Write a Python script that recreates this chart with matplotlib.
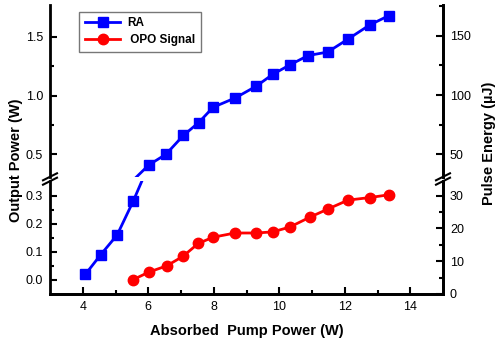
import numpy as np
import matplotlib
matplotlib.use("Agg")
import matplotlib.pyplot as plt
from matplotlib.lines import Line2D
from matplotlib.ticker import FixedLocator

plt.rcParams['font.family'] = ['Liberation Sans', 'DejaVu Sans']

# absorbed pump power (W)
pump_ra = [4.08, 4.55, 5.05, 5.54, 6.02, 6.54, 7.07, 7.54, 7.98, 8.66,
           9.30, 9.80, 10.32, 10.88, 11.48, 12.10, 12.76, 13.35]
power_ra = [0.02, 0.09, 0.16, 0.28, 0.41, 0.50, 0.66, 0.77, 0.90, 0.98,
            1.08, 1.18, 1.26, 1.34, 1.37, 1.48, 1.60, 1.68]

pump_opo = [5.52, 6.02, 6.56, 7.06, 7.53, 7.98, 8.65, 9.30, 9.80,
            10.32, 10.93, 11.50, 12.10, 12.76, 13.35]
power_opo = [0.00, 0.028, 0.05, 0.084, 0.13, 0.152, 0.167, 0.167, 0.171,
             0.188, 0.223, 0.253, 0.284, 0.293, 0.303]

top_lim = (0.307, 1.77)
bot_lim = (-0.05, 0.352)

W, H = 500, 340
fig = plt.figure(figsize=(W / 100, H / 100), dpi=100)

def fx(px):
    return px / W

def fy(py):
    return 1 - py / H

left, right = 50, 443
top, brk_hi, brk_lo, bottom = 5, 177, 181, 294

ax_top = fig.add_axes([fx(left), fy(brk_hi), fx(right - left), (brk_hi - top) / H])
ax_bot = fig.add_axes([fx(left), fy(bottom), fx(right - left), (bottom - brk_lo) / H])

blue, red = '#0000ff', '#ff0000'
ra = np.array(power_ra)
sq = dict(color=blue, lw=2, marker='s', ms=7)
ci = dict(color=red, lw=2, marker='o', ms=7.5)

ax_top.plot(pump_ra, power_ra, markevery=list(ra >= top_lim[0]), **sq)
ax_bot.plot(pump_ra, power_ra, markevery=list(ra <= bot_lim[1]), **sq)
ax_bot.plot(pump_opo, power_opo, **ci)

def style(ax):
    for s in ax.spines.values():
        s.set_linewidth(2)
    ax.spines['top'].set_visible(False)
    ax.tick_params(direction='in', which='both', labelsize=9, width=1.5,
                   pad=5)
    ax.tick_params(which='major', length=5)
    ax.tick_params(which='minor', length=3)

for ax in (ax_top, ax_bot):
    ax.set_xlim(3, 15)
    style(ax)

ax_top.set_ylim(*top_lim)
ax_bot.set_ylim(*bot_lim)
ax_top.spines['bottom'].set_visible(False)
ax_top.tick_params(axis='x', which='both', bottom=False, labelbottom=False)

ax_top.yaxis.set_major_locator(FixedLocator([0.5, 1.0, 1.5]))
ax_top.yaxis.set_minor_locator(FixedLocator([0.75, 1.25]))
ax_bot.yaxis.set_major_locator(FixedLocator([0.0, 0.1, 0.2, 0.3]))
ax_bot.yaxis.set_minor_locator(FixedLocator([0.05, 0.15, 0.25]))
ax_bot.set_xticks([4, 6, 8, 10, 12, 14])
ax_bot.xaxis.set_minor_locator(FixedLocator([5, 7, 9, 11, 13]))

# right axes (pulse energy)
rt = ax_top.twinx()
rb = ax_bot.twinx()
rt.set_ylim(31, 176)
rb.set_ylim(0, 34.5)
rt.yaxis.set_major_locator(FixedLocator([50, 100, 150]))
rt.yaxis.set_minor_locator(FixedLocator([75, 125, 175]))
rb.yaxis.set_major_locator(FixedLocator([0, 10, 20, 30]))
rb.yaxis.set_minor_locator(FixedLocator([5, 15, 25]))
for ax in (rt, rb):
    style(ax)
    ax.spines['left'].set_visible(False)
rt.spines['bottom'].set_visible(False)

handles = [Line2D([], [], **sq), Line2D([], [], **ci)]
leg = ax_top.legend(handles, ['RA', ' OPO Signal'], loc='upper left',
                    bbox_to_anchor=(0.06, 0.995),
                    prop={'weight': 'bold', 'size': 8.5}, fancybox=False,
                    edgecolor='#555555', handlelength=3.0, borderpad=0.45,
                    labelspacing=0.45, handletextpad=0.6)
leg.get_frame().set_linewidth(1)

# axis break marks
ymid = (brk_hi + brk_lo) / 2
for xc in (left, right):
    for dy in (-2.2, 2.2):
        fig.add_artist(Line2D([fx(xc - 7), fx(xc + 7)],
                              [fy(ymid + dy + 3.5), fy(ymid + dy - 3.5)],
                              color='black', lw=1.5,
                              transform=fig.transFigure))

fig.text(fx(16), fy(160), 'Output Power (W)', rotation=90, ha='center',
         va='center', fontsize=10.5, fontweight='bold')
fig.text(fx(489), fy(143), 'Pulse Energy (\u00b5J)', rotation=90, ha='center',
         va='center', fontsize=10.5, fontweight='bold')
fig.text(fx(247), fy(331), 'Absorbed  Pump Power (W)', ha='center',
         va='center', fontsize=10.5, fontweight='bold')

fig.savefig('out.png', dpi=100)
